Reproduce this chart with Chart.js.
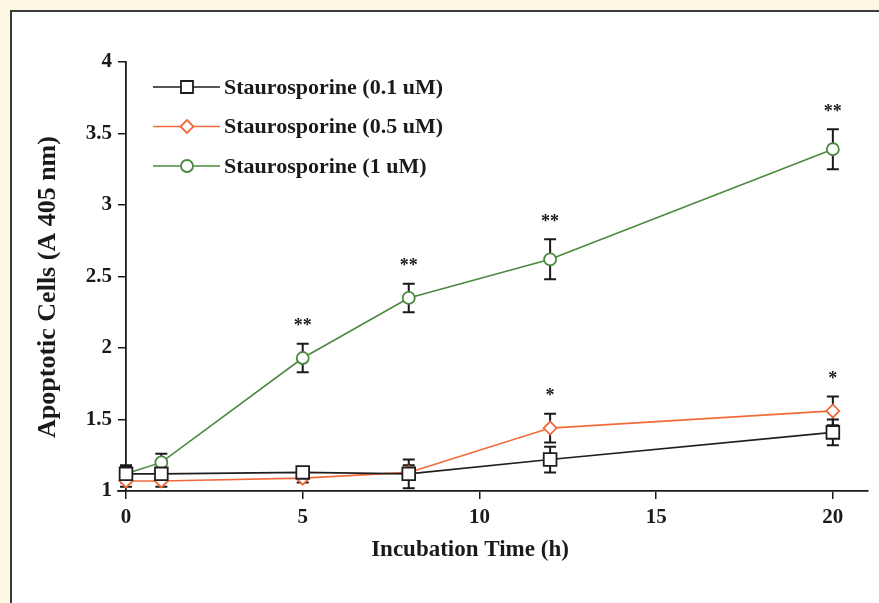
<!DOCTYPE html>
<html>
<head>
<meta charset="utf-8">
<script src="https://cdn.jsdelivr.net/npm/chart.js@4.4.0/dist/chart.umd.min.js"></script>
<style>
  html, body { margin: 0; padding: 0; background: #fdf8e4; overflow: hidden; }
  #panel { position: absolute; left: 10px; top: 10px; width: 900px; height: 700px; background: #fff; border: 2px solid #3b3b3b; }
  #chart { position: absolute; left: 0; top: 0; }
</style>
</head>
<body>
<div id="panel"></div>
<canvas id="chart" width="879" height="603"></canvas>
<script>
/* data */
const hours = [0, 1, 5, 8, 12, 20];
const stauro01 = [1.12, 1.12, 1.13, 1.12, 1.22, 1.41];
const stauro05 = [1.07, 1.07, 1.09, 1.13, 1.44, 1.56];
const stauro1 = [1.12, 1.20, 1.93, 2.35, 2.62, 3.39];
const err01 = [0.06, 0.03, 0.03, 0.10, 0.09, 0.09];
const err05 = [0.04, 0.04, 0.03, 0.05, 0.10, 0.10];
const err1 = [0.05, 0.06, 0.10, 0.10, 0.14, 0.14];
const sig01 = ['', '', '', '', '', ''];
const sig05 = ['', '', '', '', '*', '*'];
const sig1 = ['', '', '**', '**', '**', '**'];
const xTicks = [0, 5, 10, 15, 20];
const yTicks = [1, 1.5, 2, 2.5, 3, 3.5, 4];

const serif = '"Liberation Serif", "Times New Roman", serif';
const ink = '#1a1a1a';

function points(vals) {
    return hours.map((h, i) => ({x: h, y: vals[i]}));
}

/*helper: draw a marker like the figure's*/
function marker(ctx, style, color, x, y) {
    ctx.save();
    ctx.fillStyle = '#fff';
    ctx.strokeStyle = color;
    ctx.lineWidth = 1.8;
    ctx.beginPath();
    if (style === 'rect') {
        ctx.rect(x - 6, y - 6, 12, 12);
    } else if (style === 'rectRot') {
        ctx.moveTo(x - 6.5, y); ctx.lineTo(x, y - 6.5); ctx.lineTo(x + 6.5, y); ctx.lineTo(x, y + 6.5); ctx.closePath();
    } else {
        ctx.arc(x, y, 6, 0, Math.PI * 2);
    }
    ctx.fill();
    ctx.stroke();
    ctx.restore();
}

/*error bars, stars, legend and axis titles*/
const extras = {
    id: 'extras',
    beforeDatasetsDraw(chart) {
        const {ctx, scales: {x, y}} = chart;
        ctx.save();
        ctx.strokeStyle = ink;
        ctx.lineWidth = 2;
        chart.data.datasets.forEach(ds => {
            ds.data.forEach((p, i) => {
                const e = ds.errors[i];
                const px = x.getPixelForValue(p.x);
                const top = y.getPixelForValue(p.y + e);
                const bot = y.getPixelForValue(p.y - e);
                ctx.beginPath();
                ctx.moveTo(px, top); ctx.lineTo(px, bot);
                ctx.moveTo(px - 6, top); ctx.lineTo(px + 6, top);
                ctx.moveTo(px - 6, bot); ctx.lineTo(px + 6, bot);
                ctx.stroke();
            });
        });
        // x axis line runs a little left of the y axis
        ctx.lineWidth = 1.5;
        ctx.beginPath();
        ctx.moveTo(chart.chartArea.left - 9, chart.chartArea.bottom);
        ctx.lineTo(chart.chartArea.left, chart.chartArea.bottom);
        ctx.stroke();
        ctx.restore();
    },
    afterDatasetsDraw(chart) {
        const {ctx, scales: {x, y}} = chart;
        ctx.save();
        ctx.fillStyle = ink;
        ctx.font = 'bold 18px ' + serif;
        ctx.textAlign = 'center';
        ctx.textBaseline = 'middle';
        chart.data.datasets.forEach(ds => {
            ds.data.forEach((p, i) => {
                if (!ds.stars[i]) return;
                const px = x.getPixelForValue(p.x);
                const top = y.getPixelForValue(p.y + ds.errors[i]);
                ctx.fillText(ds.stars[i], px, top - 17);
            });
        });

        // legend
        ctx.textAlign = 'left';
        ctx.font = 'bold 22px ' + serif;
        chart.data.datasets.forEach((ds, i) => {
            const ly = 87 + i * 39.5;
            ctx.strokeStyle = ds.borderColor;
            ctx.lineWidth = 1.5;
            ctx.beginPath();
            ctx.moveTo(153, ly); ctx.lineTo(220, ly);
            ctx.stroke();
            marker(ctx, ds.pointStyle, ds.pointBorderColor, 187, ly);
            ctx.fillStyle = ink;
            ctx.fillText(ds.label, 224, ly + 1);
        });

        // axis titles
        ctx.textAlign = 'center';
        ctx.font = 'bold 23px ' + serif;
        ctx.fillText('Incubation Time (h)', 470, 550);
        ctx.translate(48, 287);
        ctx.rotate(-Math.PI / 2);
        ctx.font = 'bold 26px ' + serif;
        ctx.fillText('Apoptotic Cells (A 405 nm)', 0, 0);
        ctx.restore();
    }
};

function series(label, vals, errs, stars, color, style, radius) {
    return {
        label: label,
        data: points(vals),
        errors: errs,
        stars: stars,
        borderColor: color,
        borderWidth: 1.6,
        pointStyle: style,
        pointRadius: radius,
        pointBorderColor: color,
        pointBackgroundColor: '#fff',
        pointBorderWidth: 1.8,
        tension: 0,
        clip: false
    };
}

new Chart(document.getElementById('chart'), {
    type: 'line',
    data: {
        datasets: [
            series('Staurosporine (0.1 uM)', stauro01, err01, sig01, '#1e1e1e', 'rect', 9),
            series('Staurosporine (0.5 uM)', stauro05, err05, sig05, '#f26a3a', 'rectRot', 6.5),
            series('Staurosporine (1 uM)', stauro1, err1, sig1, '#4a8a3e', 'circle', 6)
        ]
    },
    options: {
        responsive: false,
        animation: false,
        layout: { padding: { top: 62, right: 9, bottom: 0, left: 0 } },
        plugins: {
            legend: { display: false },
            tooltip: { enabled: false }
        },
        scales: {
            x: {
                type: 'linear',
                min: 0,
                max: 21,
                afterBuildTicks: (scale) => { scale.ticks = xTicks.map(v => ({value: v})); },
                afterFit: (scale) => { scale.height = 112; },
                grid: { display: true, drawOnChartArea: false, drawTicks: true, tickLength: 8, lineWidth: 1.5, color: ink },
                border: { display: true, color: ink, width: 1.8 },
                ticks: { color: ink, padding: 6, maxRotation: 0, callback: (v) => String(v), font: { family: serif, size: 21, weight: 'bold' } }
            },
            y: {
                type: 'linear',
                min: 1,
                max: 4,
                afterBuildTicks: (scale) => { scale.ticks = yTicks.map(v => ({value: v})); },
                afterFit: (scale) => { scale.width = 126; },
                grid: { display: true, drawOnChartArea: false, drawTicks: true, tickLength: 8, lineWidth: 1.5, color: ink },
                border: { display: true, color: ink, width: 1.8 },
                ticks: { color: ink, padding: 6, callback: (v) => String(v), font: { family: serif, size: 21, weight: 'bold' } }
            }
        }
    },
    plugins: [extras]
});
</script>
</body>
</html>
